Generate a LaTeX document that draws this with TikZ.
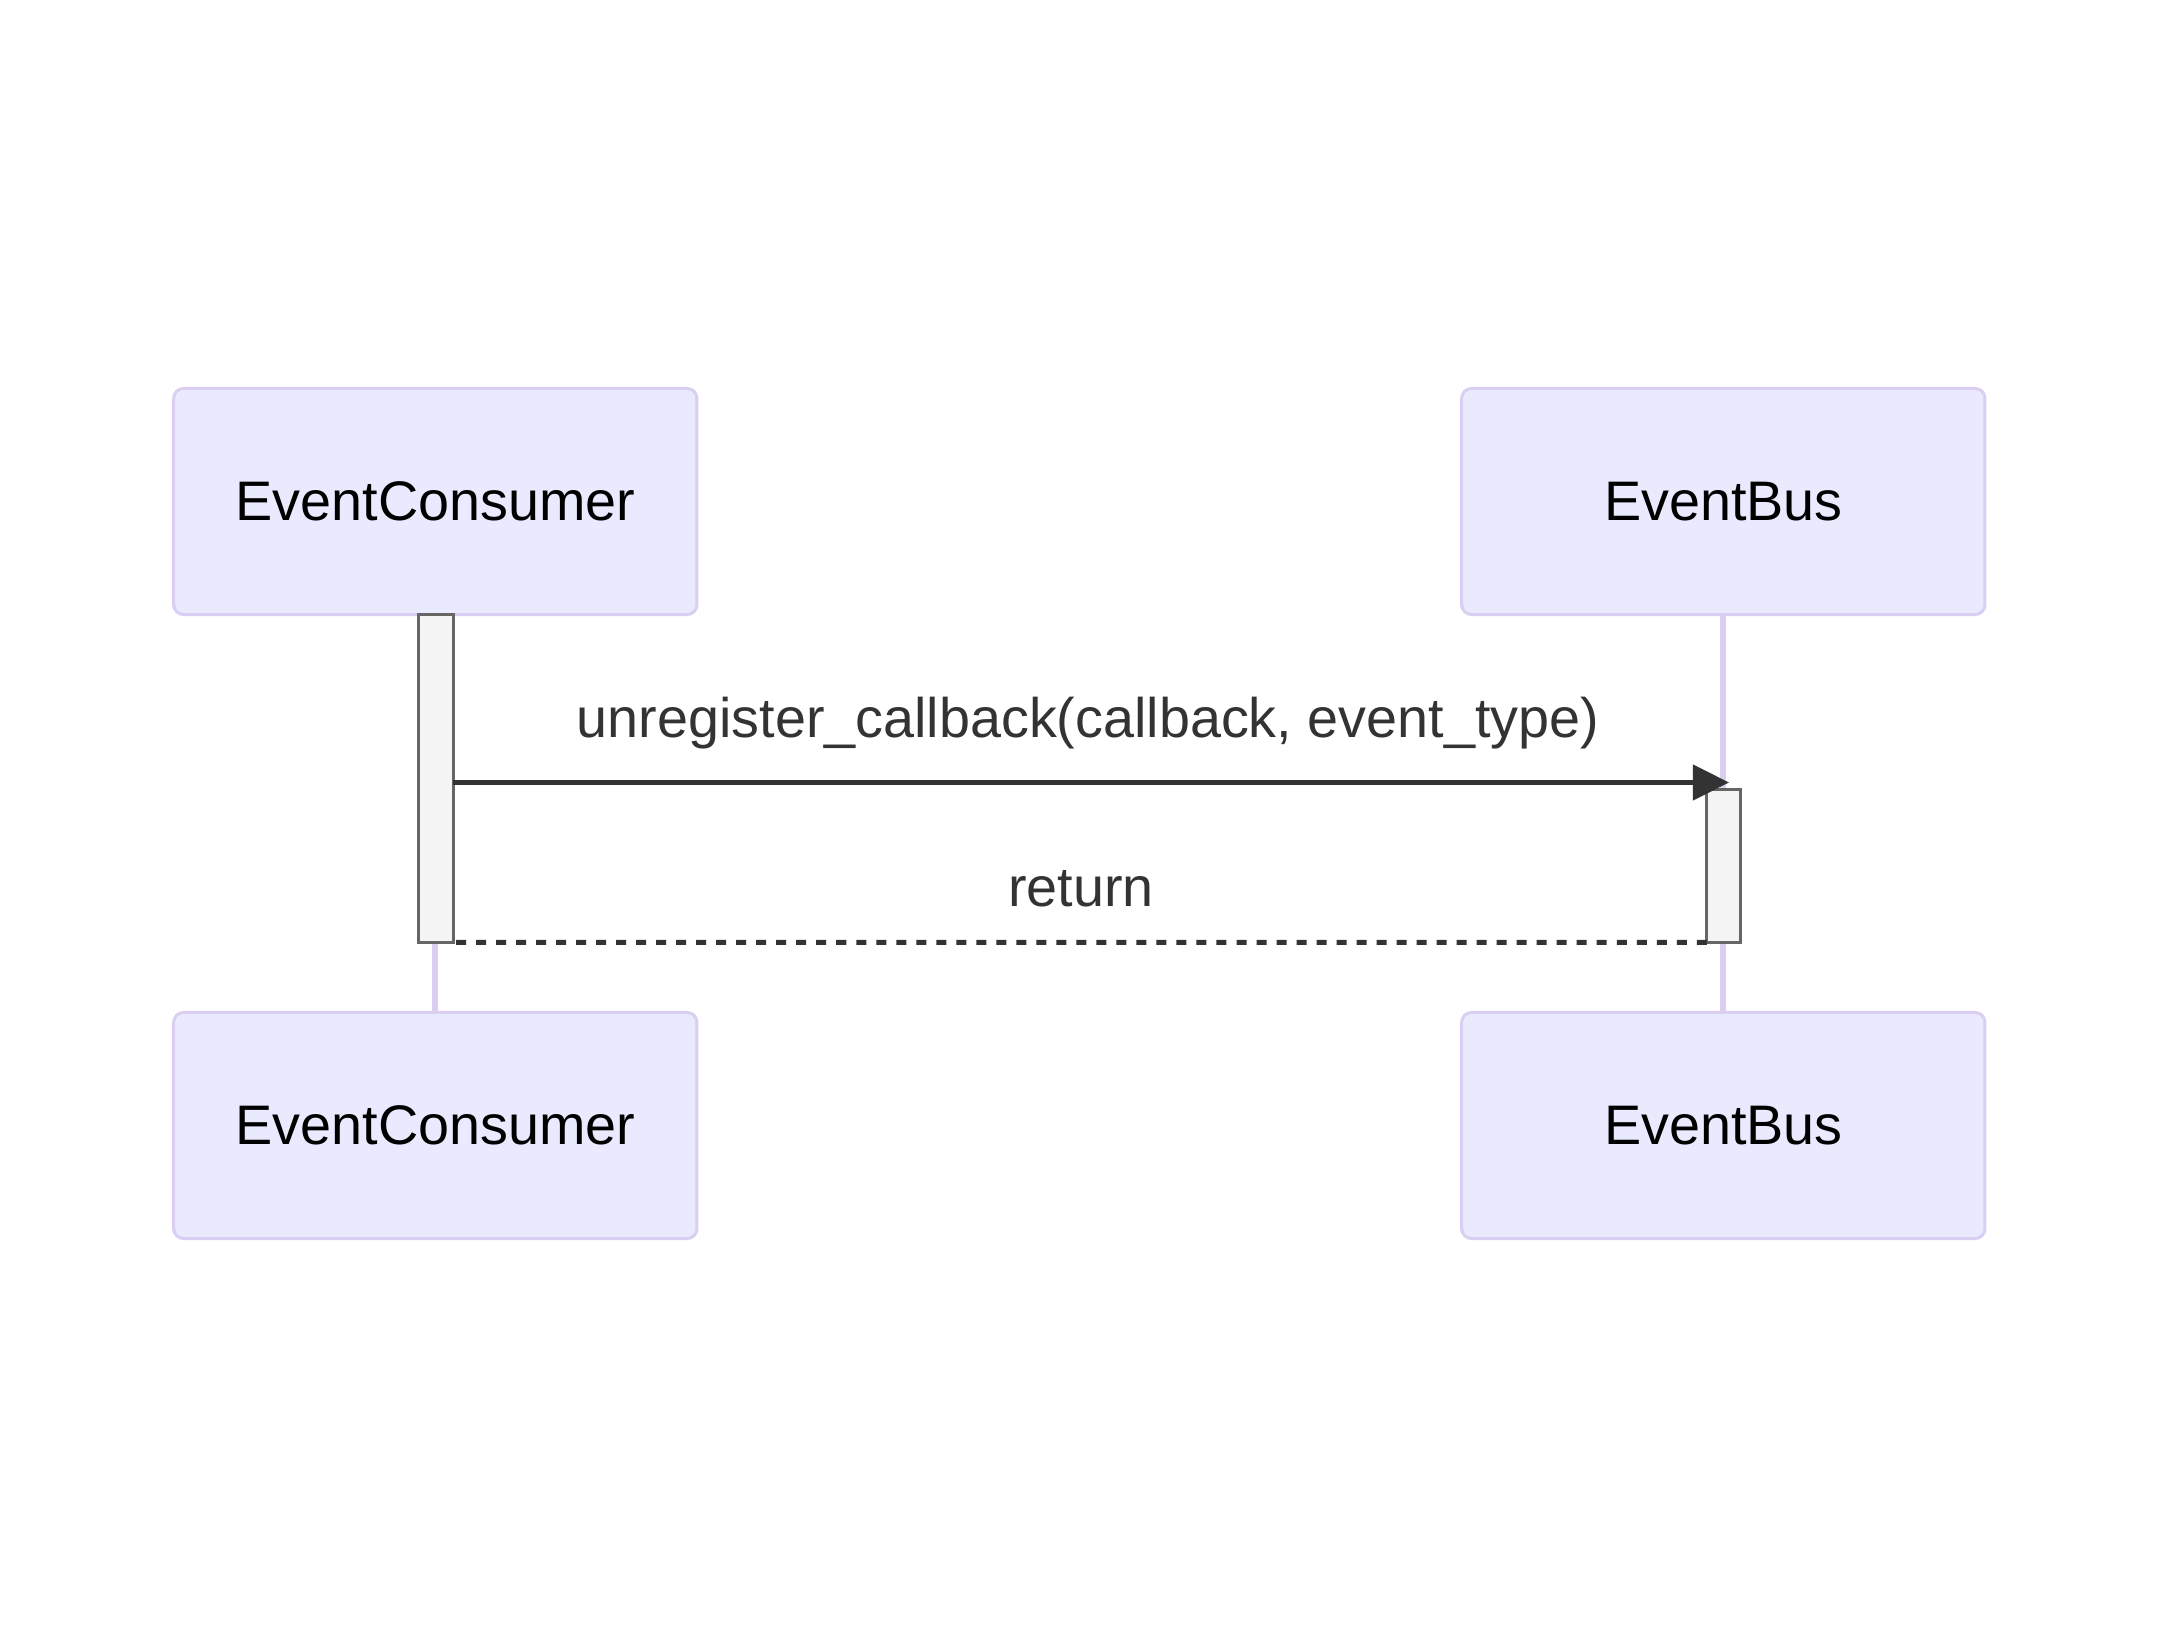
\documentclass[tikz,border=0pt]{standalone}
\usepackage{fontspec}
\setmainfont{Liberation Sans}
\usetikzlibrary{positioning,arrows.meta}
\definecolor{actfill}{HTML}{EAEAFF}
\definecolor{actline}{HTML}{DACEF3}
\definecolor{barfill}{HTML}{F4F4F4}
\definecolor{barline}{HTML}{666666}
\definecolor{msgcol}{HTML}{333333}
\tikzset{
  actor/.style={draw=actline,fill=actfill,line width=0.03cm,rounded corners=0.1cm,
    minimum width=5.23cm,minimum height=2.26cm,outer sep=0pt,
    font=\fontsize{15.85}{19}\selectfont},
  actbar/.style={draw=barline,fill=barfill,line width=0.03cm,minimum width=0.34cm,
    inner sep=0pt,outer sep=0pt},
  life/.style={draw=actline,line width=0.06cm},
  msg/.style={draw=msgcol,line width=0.045cm,-{Triangle[length=0.36cm,width=0.35cm]}},
  ret/.style={draw=msgcol,line width=0.05cm,dash pattern=on 0.1cm off 0.1cm},
  msglabel/.style={text=msgcol,inner sep=0pt,font=\fontsize{15.85}{19}\selectfont}
}
\begin{document}
\begin{tikzpicture}[x=0.01cm,y=-0.01cm]
\useasboundingbox (0,0) rectangle (2160,1631);
% actors
\node[actor] (conTop) at (435.3,501.5) {EventConsumer};
\node[actor] (busTop) at (1723.3,501.5) {EventBus};
\node[actor] (conBot) at (435.3,1125.5) {EventConsumer};
\node[actor] (busBot) at (1723.3,1125.5) {EventBus};
% lifelines
\draw[life] (conTop.south) -- (conBot.north);
\draw[life] (busTop.south) -- (busBot.north);
% activations
\node[actbar,minimum height=3.279cm] (conAct) at (436,778.35) {};
\node[actbar,minimum height=1.529cm] (busAct) at (1723.8,865.85) {};
% messages
\coordinate (callEnd) at (1729,782.5);
\draw[msg] (conAct.east |- callEnd) -- (callEnd);
\node[msglabel] (callLbl) at (1088,723.5) {unregister\_callback(callback, event\_type)};
\draw[ret] (busAct.south west) -- (conAct.south east);
\node[msglabel] (retLbl) at (1081,888.5) {return};
\end{tikzpicture}
\end{document}
